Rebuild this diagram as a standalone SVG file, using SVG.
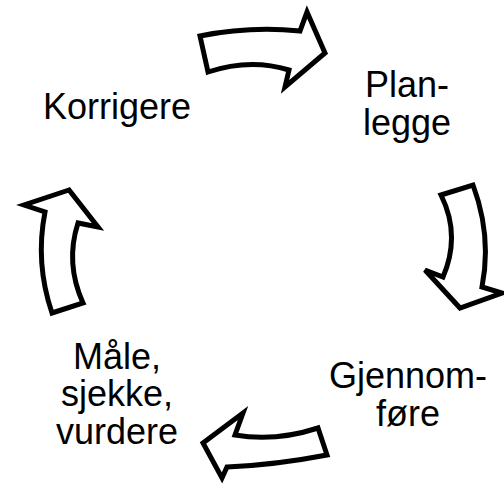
<svg xmlns="http://www.w3.org/2000/svg" width="504" height="489" viewBox="0 0 504 489">
<style>
.lbl{font-family:"Liberation Sans",Arial,sans-serif;font-size:36px;fill:#000;text-anchor:middle}
.arr{fill:#fff;stroke:#000;stroke-width:5;stroke-linejoin:miter}
</style>
<rect width="504" height="489" fill="#fff"/>
<g id="connectors">
<path class="arr" d="M200,36 Q250,26 300,31 L307,12 L325,53 L285,87 L289,70 Q250,58 208,72 Z"/>
<path class="arr" d="M441,195 L473,185 Q492,236 482,287 L502,293 L460,308 L425,270 L443,277 Q461,235 441,195 Z"/>
<path class="arr" d="M235,435 Q275,442 318,428 L327,455 Q275,465 227,467 L222,478 L203,443 L243,413 Z"/>
<path class="arr" d="M69,190 L24,205 L45,212 Q35,263 52,313 L83,303 Q65,263 78,223 L98,227 Z"/>
</g>
<g id="plan"><text class="lbl" x="407" y="97">Plan-</text><text class="lbl" x="407" y="135">legge</text></g>
<g id="gjennomfore"><text class="lbl" x="408" y="388">Gjennom-</text><text class="lbl" x="408" y="426">føre</text></g>
<g id="male"><text class="lbl" x="117" y="369">Måle,</text><text class="lbl" x="117" y="406">sjekke,</text><text class="lbl" x="117" y="444">vurdere</text></g>
<g id="korrigere"><text class="lbl" x="117" y="119">Korrigere</text></g>
</svg>
